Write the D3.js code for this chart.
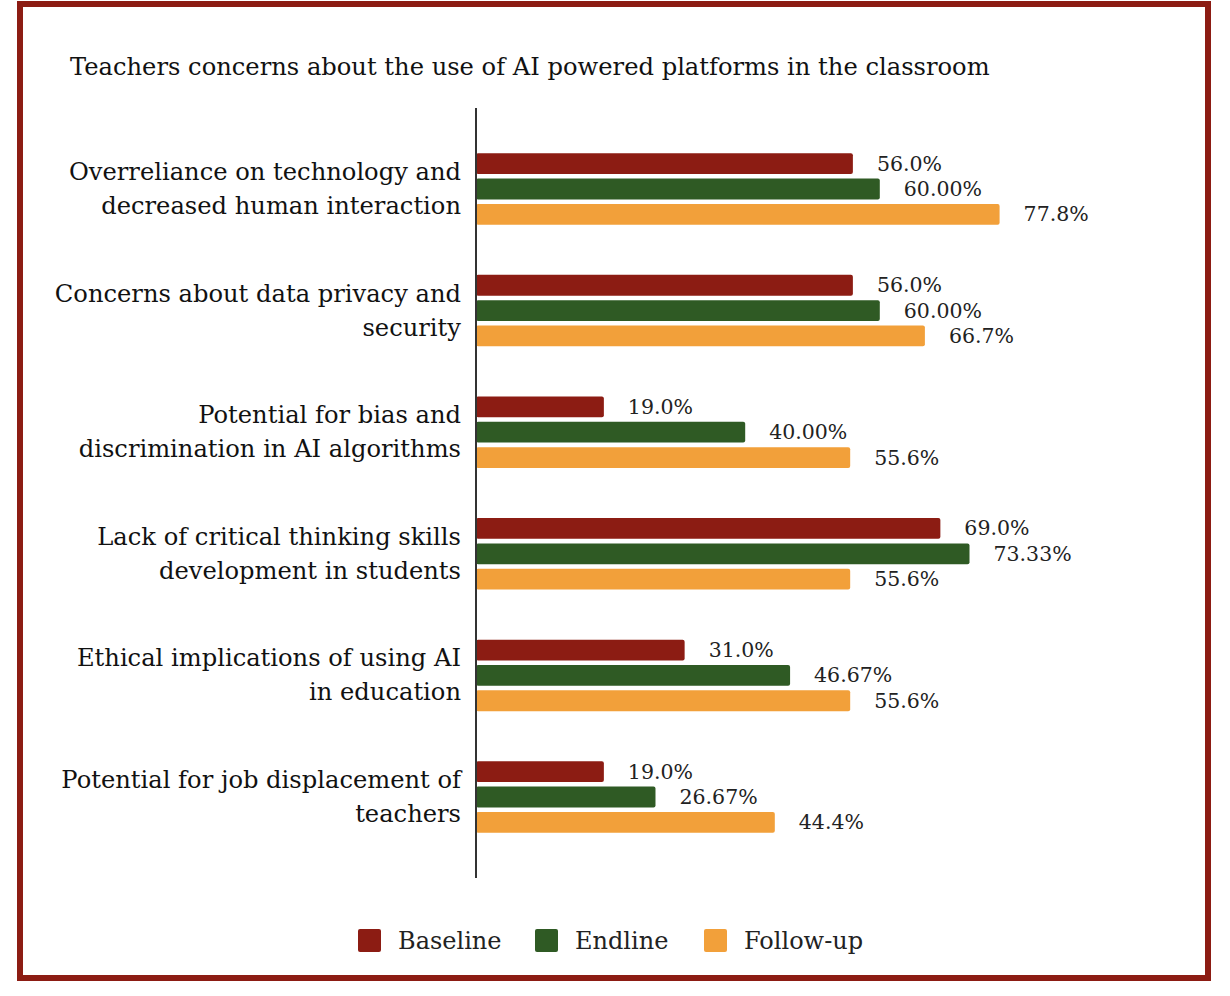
<!DOCTYPE html>
<html>
<head>
<meta charset="utf-8">
<script src="https://cdn.jsdelivr.net/npm/d3@7"></script>
<style>
 body { margin: 0; background: #fff; }
 text { font-family: "DejaVu Serif", "Liberation Serif", serif; fill: #111; }
</style>
</head>
<body>
<div id="chart"></div>
<script>
// chart data
var categories = [
 ["Overreliance on technology and", "decreased human interaction"],
 ["Concerns about data privacy and", "security"],
 ["Potential for bias and", "discrimination in AI algorithms"],
 ["Lack of critical thinking skills", "development in students"],
 ["Ethical implications of using AI", "in education"],
 ["Potential for job displacement of", "teachers"]
];
var seriesNames = ["Baseline", "Endline", "Follow-up"];
var baseline = [56.0, 56.0, 19.0, 69.0, 31.0, 19.0];
var endline = [60.00, 60.00, 40.00, 73.33, 46.67, 26.67];
var followUp = [77.8, 66.7, 55.6, 55.6, 55.6, 44.4];
var decimals = [1, 2, 1];
var colors = ["#8c1c13", "#2f5a24", "#f2a03a"];

var svgWidth = 1230;
var svgHeight = 996;

var svg = d3.select("#chart")
 .append("svg")
   .attr("width", svgWidth)
   .attr("height", svgHeight);

// frame
svg.append("rect")
 .attr("x", 20).attr("y", 4)
 .attr("width", 1188).attr("height", 974)
 .attr("fill", "#fff")
 .attr("stroke", "#8c1c13")
 .attr("stroke-width", 6);

// title
svg.append("text")
 .attr("x", 70).attr("y", 75)
 .style("font-size", "24.2px")
 .text("Teachers concerns about the use of AI powered platforms in the classroom");

var data = categories.map(function (c, i) {
 return { label: c, values: [baseline[i], endline[i], followUp[i]] };
});

// scales
var x = d3.scaleLinear()
 .domain([0, 100])
 .range([476, 1149]);

var y = d3.scaleBand()
 .domain(d3.range(categories.length))
 .range([108, 878])
 .paddingInner(0)
 .paddingOuter(0.166);

var ySub = d3.scaleBand()
 .domain(d3.range(seriesNames.length))
 .range([-38, 38])
 .paddingInner(0.18)
 .paddingOuter(0.09);

var groups = svg.append("g")
 .selectAll("g")
 .data(data)
 .enter()
 .append("g")
   .attr("transform", function (d, i) {
     return "translate(0," + (y(i) + y.bandwidth() / 2) + ")";
   });

// category labels
groups.append("text")
 .attr("text-anchor", "end")
 .style("font-size", "24.2px")
 .selectAll("tspan")
 .data(function (d) { return d.label; })
 .enter()
 .append("tspan")
   .attr("x", 461)
   .attr("y", function (d, j) { return j === 0 ? -9 : 25; })
   .text(function (d) { return d; });

// bars
groups.selectAll("rect")
 .data(function (d) { return d.values; })
 .enter()
 .append("rect")
   .attr("x", x(0))
   .attr("y", function (d, j) { return ySub(j); })
   .attr("width", function (d) { return x(d) - x(0); })
   .attr("height", ySub.bandwidth())
   .attr("rx", 2)
   .attr("fill", function (d, j) { return colors[j]; });

// value labels
groups.selectAll(".val")
 .data(function (d) { return d.values; })
 .enter()
 .append("text")
   .attr("class", "val")
   .attr("x", function (d) { return x(d) + 24; })
   .attr("y", function (d, j) { return ySub(j) + ySub.bandwidth() / 2 + 7; })
   .style("font-size", "20.5px")
   .style("fill", "#222")
   .text(function (d, j) { return d.toFixed(decimals[j]) + "%"; });

// axis line
svg.append("line")
 .attr("x1", 476).attr("x2", 476)
 .attr("y1", 108).attr("y2", 878)
 .attr("stroke", "#333")
 .attr("stroke-width", 2);

// legend
var legendX = [358, 535, 704];
var legend = svg.append("g")
 .selectAll("g")
 .data(seriesNames)
 .enter()
 .append("g")
   .attr("transform", function (d, i) { return "translate(" + legendX[i] + ",929)"; });

legend.append("rect")
 .attr("width", 23).attr("height", 23)
 .attr("rx", 2)
 .attr("fill", function (d, i) { return colors[i]; });

legend.append("text")
 .attr("x", 40).attr("y", 20)
 .style("font-size", "24px")
 .style("fill", "#222")
 .text(function (d) { return d; });
</script>
</body>
</html>
